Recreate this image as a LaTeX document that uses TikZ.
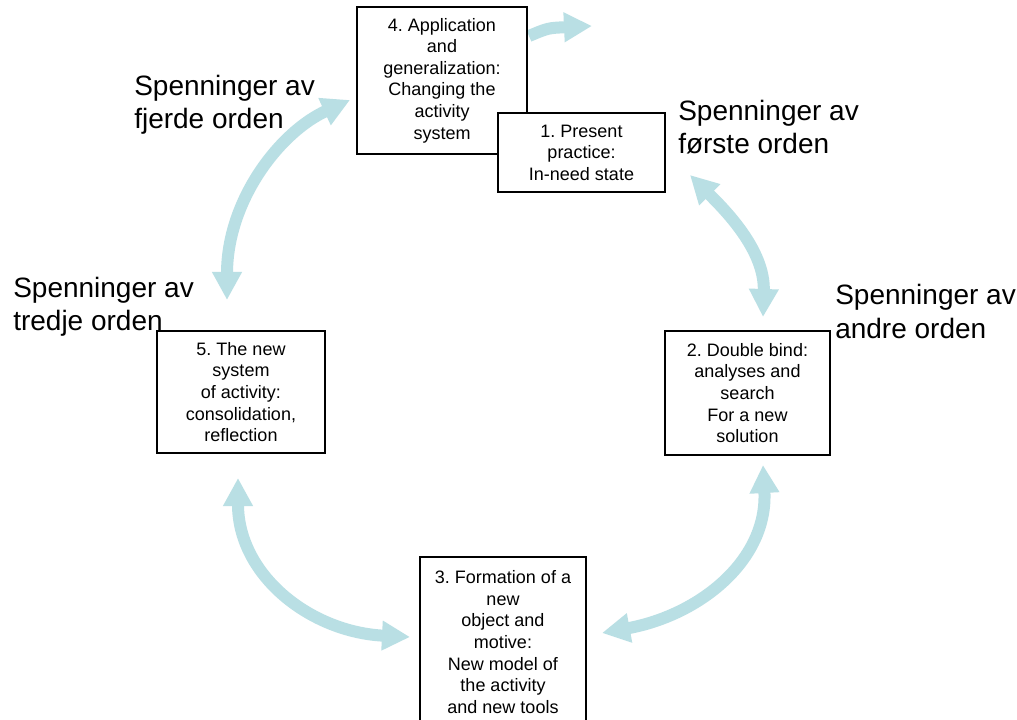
\documentclass[tikz,border=0pt]{standalone}
\usepackage{fontspec}
\setmainfont{Liberation Sans}
\usetikzlibrary{arrows.meta}
\definecolor{cyclearrow}{RGB}{185,223,228}
\frenchspacing
\begin{document}
\begin{tikzpicture}[x=0.75pt,y=-0.75pt,
  stage/.style={draw=black, line width=1.5pt, fill=white, inner sep=0pt, align=center,
    font=\fontsize{13.5}{16.2}\selectfont},
  ordertext/.style={inner sep=0pt, align=left, anchor=base west,
    font=\fontsize{21}{24.75}\selectfont},
  flow/.style={draw=cyclearrow, line width=9pt, {Triangle[length=21pt,width=21pt]}-{Triangle[length=21pt,width=21pt]}},
  flowone/.style={draw=cyclearrow, line width=9pt, -{Triangle[length=21pt,width=21pt]}},
]
\clip (0,0) rectangle (1017,720);
\fill[white] (0,0) rectangle (1017,720);

% end points of the cycle arrows
\coordinate (a4s) at (227,300); \coordinate (a4e) at (350,100);
\coordinate (a1s) at (690,175); \coordinate (a1e) at (763,317);
\coordinate (a2s) at (763,465); \coordinate (a2e) at (602,633);
\coordinate (a3s) at (238,478); \coordinate (a3e) at (410,637);
\coordinate (a0s) at (529,36);  \coordinate (a0e) at (592,26);

% cycle arrows
\draw[flow] (a4s) .. controls (227,200) and (280,132) .. (a4e);
\draw[flow] (a1s) .. controls (725,210) and (765,250) .. (a1e);
\draw[flow] (a2s) .. controls (768,560) and (700,615) .. (a2e);
\draw[flow] (a3s) .. controls (238,575) and (310,632) .. (a3e);
\draw[flowone] (a0s) .. controls (548,28) .. (a0e);

% stages of the cycle
\node[stage, minimum width=127.5pt, minimum height=110.25pt] (b4) at (442,80.5)
  {4. Application\\and\\generalization:\\Changing the\\activity\\system};
\node[stage, line width=1pt, minimum width=125.25pt, minimum height=59.25pt] (b1) at (581.5,152.5)
  {1. Present\\practice:\\In-need state};
\node[stage, minimum width=123.75pt, minimum height=93pt] (b2) at (747.5,393)
  {2. Double bind:\\analyses and\\search\\For a new\\solution};
\node[stage, minimum width=124.5pt, minimum height=127.5pt] (b3) at (503,642)
  {3. Formation of a\\new\\object and\\motive:\\New model of\\the activity\\and new tools};
\node[stage, minimum width=126pt, minimum height=91.5pt] (b5) at (241,392)
  {5. The new\\system\\of activity:\\consolidation,\\reflection};

% orders of tension (anchored at the baseline of the second line)
\node[ordertext] (t4) at (134,129) {Spenninger av\\fjerde orden};
\node[ordertext] (t1) at (678,154) {Spenninger av\\første orden};
\node[ordertext] (t3) at (13,330) {Spenninger av\\tredje orden};
\node[ordertext] (t2) at (835,338) {Spenninger av\\andre orden};
\end{tikzpicture}
\end{document}
